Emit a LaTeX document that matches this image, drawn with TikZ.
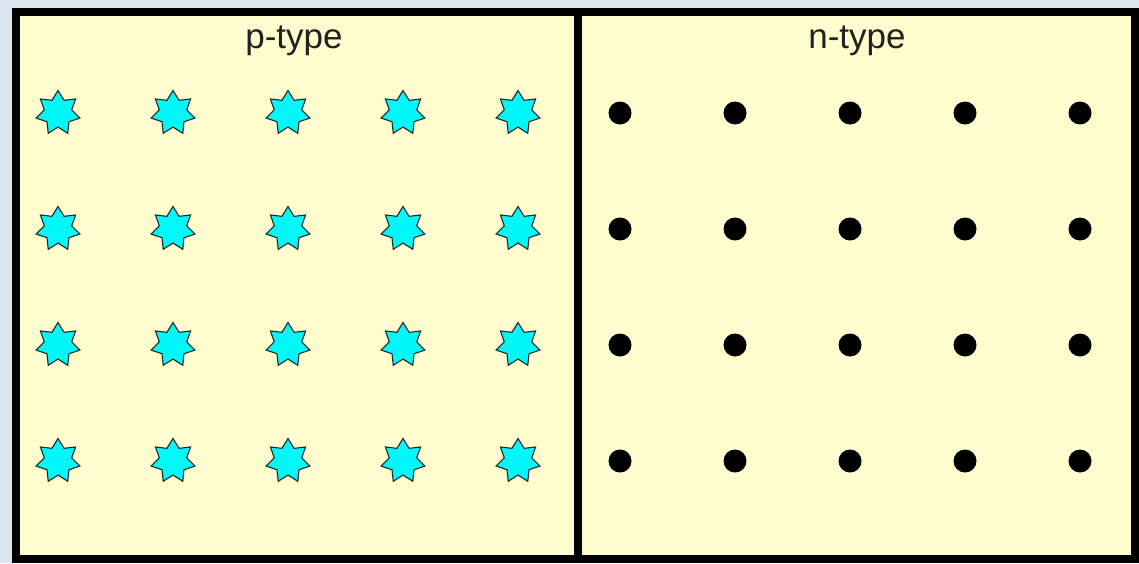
\documentclass[tikz,border=0pt]{standalone}
\usepackage{fontspec}
\setmainfont{Liberation Sans}
\usetikzlibrary{shapes.geometric}
\definecolor{bgblue}{HTML}{DCE4F0}
\definecolor{paper}{HTML}{FFFCCE}
\definecolor{ink}{HTML}{222222}
\definecolor{starcyan}{HTML}{00F8F8}
\tikzset{
  panel/.style={draw=black, line width=8pt, fill=paper, inner sep=0pt, outer sep=0pt, minimum width=#1, minimum height=547pt, anchor=north west},
  dopant/.style={star, star points=7, star point ratio=1.6, minimum size=45pt, inner sep=0pt, fill=starcyan, draw=black!85, line width=1.1pt},
  donor/.style={circle, fill=black, minimum size=23pt, inner sep=0pt},
  title/.style={font=\fontsize{35}{40}\selectfont, text=ink, anchor=base}
}
\begin{document}
\begin{tikzpicture}[x=1pt,y=-1pt]
\fill[bgblue] (0,0) rectangle (1139,563);
\useasboundingbox (0,0) rectangle (1139,563);
\node[panel=561.5pt] (pbox) at (16,12) {};
\node[panel=557.5pt] (nbox) at (577.5,12) {};
\node[title] (ptitle) at (294,48) {p-type};
\node[title] (ntitle) at (857,48) {n-type};
\foreach \r [count=\j] in {113,229,345,461}{
  \foreach \c [count=\i] in {58,173,288,403,518}{
    \node[dopant] (p\i\j) at (\c,\r) {};
  }
  \foreach \c [count=\i] in {620,735,850,965,1080}{
    \node[donor] (n\i\j) at (\c,\r) {};
  }
}
\end{tikzpicture}
\end{document}
